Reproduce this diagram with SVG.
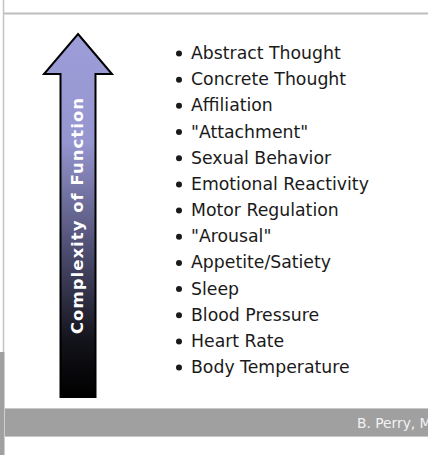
<svg xmlns="http://www.w3.org/2000/svg" width="428" height="455" viewBox="0 0 428 455">
<defs>
<linearGradient id="ag" x1="0" y1="34" x2="0" y2="397" gradientUnits="userSpaceOnUse">
<stop offset="0" stop-color="#9d9dd9"/>
<stop offset="0.3" stop-color="#9595cf"/>
<stop offset="0.6" stop-color="#4c4c70"/>
<stop offset="0.85" stop-color="#121219"/>
<stop offset="1" stop-color="#000000"/>
</linearGradient>
<style>
.item{font-family:"DejaVu Sans",Verdana,sans-serif;font-size:17.3px;fill:#1a1a1a}
.dot{fill:#1a1a1a}
.lbl{font-family:"DejaVu Sans",Verdana,sans-serif;font-size:16.5px;font-weight:bold;fill:#ffffff}
.foot{font-family:"DejaVu Sans",Verdana,sans-serif;font-size:13.8px;fill:#f2f2f2}
</style>
</defs>
<rect width="428" height="455" fill="#ffffff"/>
<g id="frame">
<line x1="3.5" y1="0" x2="3.5" y2="352" stroke="#c4c4c4" stroke-width="1.5"/>
<line x1="4" y1="13.5" x2="428" y2="13.5" stroke="#bdbdbd" stroke-width="2"/>
<rect x="0" y="352" width="4.5" height="103" fill="#a0a0a0"/>
<rect x="5" y="408" width="423" height="29" fill="#a0a0a0"/>
<line x1="5" y1="408.5" x2="428" y2="408.5" stroke="#c8c8c8" stroke-width="1"/>
<line x1="5" y1="436.5" x2="428" y2="436.5" stroke="#c8c8c8" stroke-width="1"/>
<text class="foot" x="357" y="428">B. Perry, M</text>
</g>
<g id="arrow">
<path d="M78,34 L112,74 L95.5,74 L95.5,397 L60.5,397 L60.5,74 L44,74 Z" fill="url(#ag)" stroke="#000" stroke-width="2" stroke-linejoin="miter"/>
<text class="lbl" transform="translate(83,216) rotate(-90)" text-anchor="middle" textLength="236" lengthAdjust="spacing">Complexity of Function</text>
</g>
<g id="items">
<g id="i1"><circle class="dot" cx="179" cy="53.5" r="3"/><text class="item" x="191" y="59">Abstract Thought</text></g>
<g id="i2"><circle class="dot" cx="179" cy="79.7" r="3"/><text class="item" x="191" y="85.2">Concrete Thought</text></g>
<g id="i3"><circle class="dot" cx="179" cy="105.8" r="3"/><text class="item" x="191" y="111.3">Affiliation</text></g>
<g id="i4"><circle class="dot" cx="179" cy="132" r="3"/><text class="item" x="191" y="137.5">"Attachment"</text></g>
<g id="i5"><circle class="dot" cx="179" cy="158.2" r="3"/><text class="item" x="191" y="163.7">Sexual Behavior</text></g>
<g id="i6"><circle class="dot" cx="179" cy="184.4" r="3"/><text class="item" x="191" y="189.9">Emotional Reactivity</text></g>
<g id="i7"><circle class="dot" cx="179" cy="210.5" r="3"/><text class="item" x="191" y="216">Motor Regulation</text></g>
<g id="i8"><circle class="dot" cx="179" cy="236.7" r="3"/><text class="item" x="191" y="242.2">"Arousal"</text></g>
<g id="i9"><circle class="dot" cx="179" cy="262.9" r="3"/><text class="item" x="191" y="268.4">Appetite/Satiety</text></g>
<g id="i10"><circle class="dot" cx="179" cy="289" r="3"/><text class="item" x="191" y="294.5">Sleep</text></g>
<g id="i11"><circle class="dot" cx="179" cy="315.2" r="3"/><text class="item" x="191" y="320.7">Blood Pressure</text></g>
<g id="i12"><circle class="dot" cx="179" cy="341.4" r="3"/><text class="item" x="191" y="346.9">Heart Rate</text></g>
<g id="i13"><circle class="dot" cx="179" cy="367.5" r="3"/><text class="item" x="191" y="373">Body Temperature</text></g>
</g>
</svg>
